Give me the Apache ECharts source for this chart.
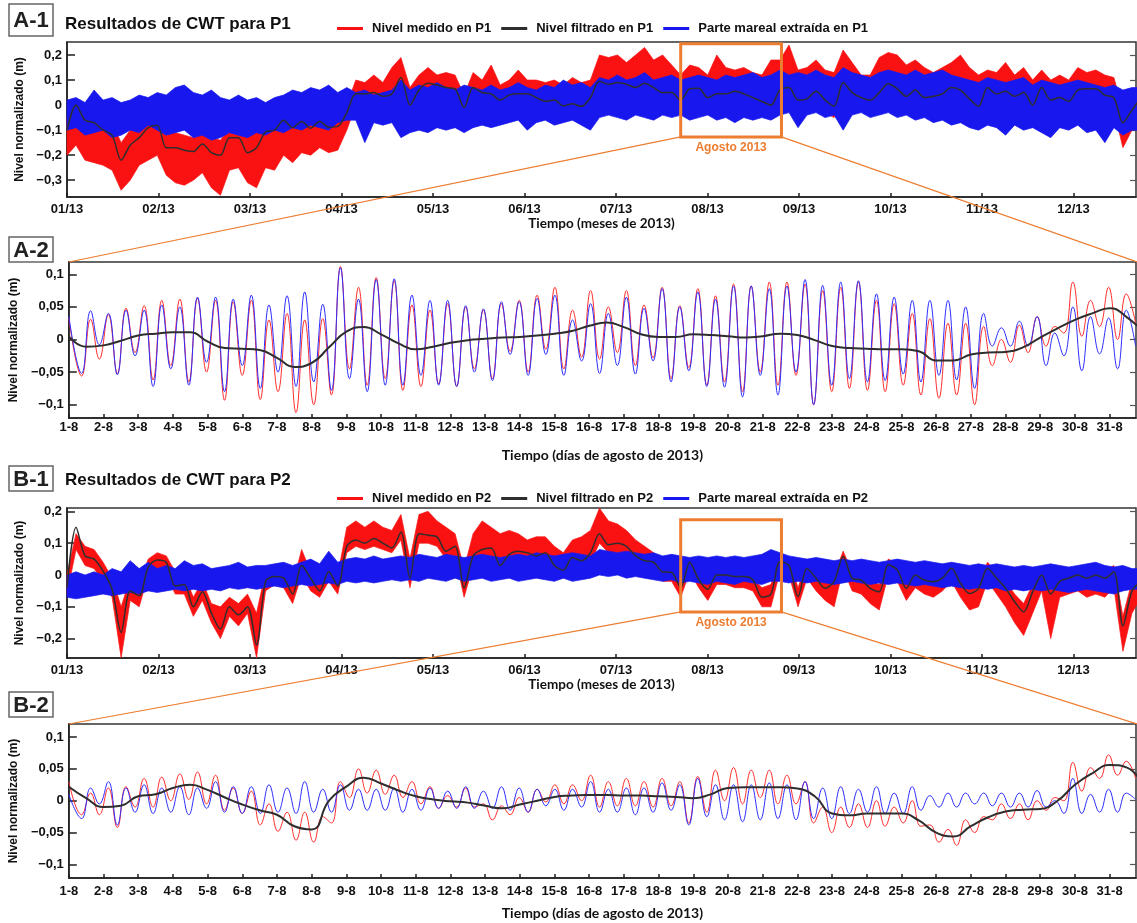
<!DOCTYPE html>
<html>
<head>
<meta charset="utf-8">
<title>Resultados de CWT para P1 y P2</title>
<script src="https://cdn.jsdelivr.net/npm/echarts@6/dist/echarts.min.js"></script>
<style>
html,body{margin:0;padding:0;background:#fff;}
#chart{width:1137px;height:923px;}
</style>
</head>
<body>
<div id="chart"></div>
<script>
// ===== Yearly records 2013: one envelope sample every 3 days from 1 January =====
const DAY_STEP = 3;
const MONTH_DAYS = 365 / 12;
const monthLabels = ['01/13','02/13','03/13','04/13','05/13','06/13','07/13','08/13','09/13','10/13','11/13','12/13'];

// P1 measured level (upper / lower envelope)
const p1MeasHi = [
 -0.05, 0.01, -0.03, -0.04, -0.06, -0.07, -0.15, -0.1, -0.08, -0.06,
 -0.04, -0.1, -0.11, -0.12, -0.13, -0.1, -0.13, -0.14, -0.09, -0.08,
 -0.12, -0.11, -0.06, -0.06, -0.03, -0.05, -0.03, -0.06, -0.04, -0.05,
 -0.05, 0.0, 0.1, 0.09, 0.12, 0.09, 0.15, 0.19, 0.07, 0.12,
 0.15, 0.12, 0.13, 0.12, 0.04, 0.13, 0.1, 0.16, 0.08, 0.1,
 0.14, 0.1, 0.1, 0.09, 0.1, 0.08, 0.11, 0.09, 0.1, 0.2,
 0.19, 0.2, 0.17, 0.2, 0.23, 0.18, 0.2, 0.16, 0.12, 0.16,
 0.15, 0.12, 0.2, 0.15, 0.14, 0.15, 0.13, 0.12, 0.18, 0.18,
 0.24, 0.14, 0.15, 0.18, 0.14, 0.13, 0.22, 0.17, 0.12, 0.12,
 0.19, 0.21, 0.2, 0.16, 0.18, 0.15, 0.13, 0.15, 0.17, 0.2,
 0.15, 0.12, 0.14, 0.13, 0.17, 0.12, 0.15, 0.1, 0.14, 0.1,
 0.12, 0.1, 0.15, 0.13, 0.14, 0.12, 0.11, -0.02, 0.06, 0.08
];
const p1MeasLo = [
 -0.2, -0.16, -0.22, -0.23, -0.24, -0.26, -0.34, -0.3, -0.24, -0.22,
 -0.2, -0.28, -0.31, -0.32, -0.3, -0.27, -0.33, -0.36, -0.26, -0.25,
 -0.31, -0.33, -0.25, -0.26, -0.2, -0.23, -0.19, -0.2, -0.17, -0.19,
 -0.18, -0.1, 0.0, 0.0, 0.01, -0.01, 0.0, 0.05, -0.05, 0.01,
 0.03, 0.03, 0.02, 0.02, -0.06, 0.02, 0.0, 0.0, -0.03, -0.01,
 0.0, 0.0, -0.02, -0.03, -0.03, -0.06, -0.05, -0.06, -0.02, 0.04,
 0.03, 0.04, 0.03, 0.02, 0.03, 0.02, 0.0, 0.0, -0.03, 0.01,
 0.01, -0.02, 0.0, -0.01, 0.0, -0.01, -0.02, -0.04, -0.05, 0.01,
 0.02, -0.03, -0.02, 0.0, -0.03, -0.05, 0.04, 0.0, -0.02, -0.03,
 0.0, 0.03, 0.01, -0.01, 0.01, -0.02, -0.01, 0.0, 0.02, 0.01,
 -0.02, -0.05, 0.02, 0.0, 0.0, -0.02, 0.0, -0.05, 0.02, -0.03,
 -0.02, -0.04, 0.01, 0.01, 0.01, -0.01, -0.02, -0.17, -0.1, -0.03
];
// P1 extracted tidal part (upper / lower envelope)
const p1TideHi = [
 0.02, 0.03, 0.01, 0.06, 0.02, 0.03, 0.01, 0.02, 0.04, 0.03,
 0.05, 0.04, 0.07, 0.08, 0.05, 0.04, 0.06, 0.03, 0.02, 0.04,
 0.02, 0.03, 0.01, 0.03, 0.04, 0.06, 0.05, 0.07, 0.06, 0.08,
 0.05, 0.07, 0.05, 0.06, 0.04, 0.05, 0.06, 0.1, 0.06, 0.08,
 0.07, 0.09, 0.07, 0.06, 0.08, 0.07, 0.06, 0.08, 0.06, 0.07,
 0.09, 0.07, 0.06, 0.08, 0.07, 0.1, 0.08, 0.09, 0.07, 0.11,
 0.1, 0.12, 0.1, 0.11, 0.13, 0.1, 0.11, 0.12, 0.1, 0.11,
 0.12, 0.11, 0.1, 0.12, 0.11, 0.12, 0.13, 0.11, 0.12, 0.14,
 0.12, 0.13, 0.12, 0.14, 0.12, 0.11, 0.15, 0.13, 0.12, 0.11,
 0.13, 0.14, 0.13, 0.12, 0.14, 0.12, 0.13, 0.14, 0.12, 0.11,
 0.1, 0.09, 0.11, 0.1, 0.09, 0.1, 0.11, 0.08, 0.1, 0.09,
 0.08, 0.09, 0.1, 0.09, 0.08, 0.07, 0.08, 0.06, 0.07, 0.07
];
const p1TideLo = [
 -0.1, -0.09, -0.12, -0.11, -0.1, -0.13, -0.12, -0.1, -0.11, -0.08,
 -0.1, -0.12, -0.11, -0.1, -0.13, -0.12, -0.14, -0.13, -0.11, -0.12,
 -0.13, -0.11, -0.12, -0.1, -0.11, -0.09, -0.1, -0.08, -0.09, -0.1,
 -0.07, -0.06, -0.06, -0.15, -0.07, -0.08, -0.07, -0.13, -0.11, -0.1,
 -0.11, -0.09, -0.1, -0.09, -0.11, -0.09, -0.08, -0.09, -0.08, -0.07,
 -0.06, -0.1, -0.07, -0.06, -0.08, -0.07, -0.06, -0.08, -0.1, -0.05,
 -0.04, -0.05, -0.06, -0.04, -0.05, -0.06, -0.04, -0.05, -0.04, -0.06,
 -0.05, -0.04, -0.06, -0.05, -0.07, -0.05, -0.06, -0.05, -0.06, -0.04,
 -0.03, -0.09, -0.04, -0.03, -0.05, -0.04, -0.1, -0.04, -0.03, -0.05,
 -0.04, -0.03, -0.05, -0.04, -0.06, -0.05, -0.07, -0.06, -0.08, -0.07,
 -0.09, -0.1, -0.08, -0.09, -0.12, -0.08, -0.1, -0.09, -0.11, -0.13,
 -0.09, -0.1, -0.08, -0.11, -0.1, -0.15, -0.09, -0.12, -0.1, -0.1
];
// P1 filtered level
const p1Filt = [
 -0.1, 0.0, -0.06, -0.07, -0.1, -0.12, -0.22, -0.16, -0.13, -0.09,
 -0.08, -0.17, -0.17, -0.18, -0.185, -0.155, -0.19, -0.2, -0.13, -0.13,
 -0.19, -0.17, -0.107, -0.1, -0.06, -0.09, -0.065, -0.092, -0.065, -0.088,
 -0.085, -0.03, 0.045, 0.045, 0.05, 0.035, 0.045, 0.11, 0.0, 0.06,
 0.087, 0.08, 0.07, 0.065, -0.01, 0.07, 0.05, 0.045, 0.02, 0.04,
 0.045, 0.045, 0.03, 0.015, 0.02, -0.003, 0.005, -0.005, 0.03, 0.095,
 0.083, 0.09, 0.083, 0.07, 0.087, 0.07, 0.05, 0.05, 0.02, 0.065,
 0.067, 0.03, 0.045, 0.045, 0.055, 0.045, 0.03, 0.015, 0.0, 0.06,
 0.07, 0.02, 0.025, 0.055, 0.02, -0.005, 0.09, 0.05, 0.03, 0.02,
 0.05, 0.085, 0.065, 0.035, 0.06, 0.03, 0.035, 0.045, 0.07, 0.06,
 0.025, -0.005, 0.07, 0.045, 0.055, 0.035, 0.05, 0.0, 0.07, 0.02,
 0.03, 0.015, 0.06, 0.065, 0.065, 0.04, 0.03, -0.07, -0.02, 0.03
];

// P2 measured level (upper / lower envelope)
const p2MeasHi = [
 0.0, 0.13, 0.09, 0.08, 0.04, -0.01, -0.1, -0.01, -0.03, 0.05,
 0.07, 0.06, 0.01, 0.0, -0.07, -0.02, -0.09, -0.1, -0.07, -0.09,
 -0.06, -0.12, 0.01, 0.02, 0.02, -0.03, 0.08, 0.01, -0.01, 0.04,
 0.0, 0.15, 0.17, 0.15, 0.17, 0.15, 0.14, 0.19, 0.05, 0.19,
 0.2, 0.17, 0.15, 0.13, 0.02, 0.13, 0.17, 0.15, 0.13, 0.14,
 0.13, 0.11, 0.12, 0.12, 0.09, 0.07, 0.11, 0.12, 0.14, 0.21,
 0.17, 0.16, 0.14, 0.11, 0.09, 0.07, 0.05, 0.04, 0.0, 0.05,
 0.01, -0.02, 0.02, 0.02, 0.01, 0.0, -0.01, -0.04, -0.03, 0.06,
 0.05, -0.04, 0.04, 0.01, -0.02, 0.0, 0.075, 0.01, 0.0, -0.02,
 -0.03, 0.05, 0.035, -0.02, 0.02, 0.0, -0.005, 0.01, 0.04, -0.01,
 -0.04, -0.02, 0.04, 0.01, -0.02, -0.06, -0.09, -0.03, 0.02, -0.04,
 0.0, 0.01, 0.02, 0.01, 0.02, 0.01, 0.03, -0.13, -0.02, 0.0
];
const p2MeasLo = [
 -0.06, 0.08, 0.03, 0.02, -0.02, -0.07, -0.26, -0.08, -0.1, 0.0,
 0.02, 0.0, -0.06, -0.06, -0.13, -0.08, -0.15, -0.2, -0.13, -0.16,
 -0.12, -0.26, -0.05, -0.03, -0.04, -0.09, 0.0, -0.05, -0.07, -0.02,
 -0.06, 0.07, 0.09, 0.08, 0.09, 0.08, 0.07, 0.11, -0.04, 0.1,
 0.1, 0.09, 0.05, 0.06, -0.07, 0.03, 0.05, 0.06, 0.0, 0.04,
 0.05, 0.04, 0.03, 0.04, 0.0, -0.01, 0.03, 0.02, 0.04, 0.1,
 0.07, 0.07, 0.06, 0.03, 0.02, 0.01, -0.02, -0.02, -0.07, 0.01,
 -0.04, -0.08, -0.03, -0.03, -0.04, -0.04, -0.05, -0.1, -0.1, 0.01,
 0.0, -0.1, -0.01, -0.05, -0.08, -0.1, 0.02, -0.05, -0.06, -0.09,
 -0.11, 0.0, -0.02, -0.08, -0.04, -0.06, -0.07, -0.05, -0.02, -0.07,
 -0.11, -0.1, -0.02, -0.06, -0.1, -0.15, -0.19, -0.12, -0.05, -0.2,
 -0.07, -0.06, -0.05, -0.07, -0.06, -0.07, -0.04, -0.24, -0.12, -0.07
];
// P2 extracted tidal part (upper / lower envelope)
const p2TideHi = [
 0.0, 0.01, 0.0, 0.01, 0.0, 0.02, 0.01, 0.045, 0.02, 0.04,
 0.02, 0.03, 0.02, 0.045, 0.03, 0.035, 0.02, 0.025, 0.03, 0.04,
 0.025, 0.03, 0.03, 0.035, 0.04, 0.03, 0.04, 0.05, 0.035, 0.075,
 0.04, 0.05, 0.055, 0.05, 0.06, 0.05, 0.055, 0.06, 0.055, 0.065,
 0.06, 0.055, 0.065, 0.06, 0.055, 0.06, 0.065, 0.06, 0.055, 0.06,
 0.065, 0.06, 0.07, 0.065, 0.06, 0.065, 0.07, 0.065, 0.06, 0.08,
 0.075, 0.07, 0.075, 0.07, 0.065, 0.07, 0.06, 0.065, 0.06, 0.055,
 0.06, 0.055, 0.06, 0.055, 0.06, 0.055, 0.06, 0.065, 0.08, 0.07,
 0.06, 0.055, 0.05, 0.055, 0.05, 0.045, 0.05, 0.045, 0.05, 0.045,
 0.04, 0.045, 0.05, 0.045, 0.04, 0.045, 0.04, 0.035, 0.04, 0.035,
 0.03, 0.035, 0.03, 0.035, 0.03, 0.025, 0.03, 0.025, 0.03, 0.035,
 0.03, 0.025, 0.03, 0.035, 0.04, 0.03, 0.025, 0.03, 0.02, 0.02
];
const p2TideLo = [
 -0.07, -0.075, -0.07, -0.065, -0.06, -0.065, -0.06, -0.055, -0.06, -0.05,
 -0.055, -0.05, -0.045, -0.05, -0.045, -0.05, -0.045, -0.05, -0.04, -0.045,
 -0.04, -0.045, -0.04, -0.035, -0.04, -0.035, -0.03, -0.035, -0.03, -0.025,
 -0.03, -0.02, -0.025, -0.02, -0.025, -0.02, -0.015, -0.02, -0.015, -0.02,
 -0.01, -0.015, -0.02, -0.01, -0.02, -0.015, -0.01, -0.02, -0.015, -0.01,
 -0.02, -0.015, -0.01, -0.015, -0.02, -0.01, -0.02, -0.015, -0.01, 0.0,
 -0.005, 0.0, -0.01, -0.005, -0.01, -0.015, -0.02, -0.015, -0.025, -0.02,
 -0.025, -0.03, -0.02, -0.025, -0.03, -0.02, -0.025, -0.03, -0.02, -0.02,
 -0.025, -0.02, -0.025, -0.02, -0.025, -0.03, -0.025, -0.02, -0.025, -0.03,
 -0.025, -0.03, -0.025, -0.03, -0.035, -0.03, -0.035, -0.04, -0.035, -0.04,
 -0.045, -0.04, -0.045, -0.04, -0.05, -0.045, -0.05, -0.045, -0.05, -0.045,
 -0.05, -0.055, -0.05, -0.045, -0.05, -0.055, -0.06, -0.05, -0.045, -0.045
];
// P2 filtered level
const p2Filt = [
 -0.04, 0.15, 0.06, 0.05, 0.012, -0.045, -0.18, -0.05, -0.065, 0.025,
 0.047, 0.04, -0.035, -0.03, -0.1, -0.053, -0.12, -0.17, -0.1, -0.125,
 -0.1, -0.22, -0.02, -0.005, -0.01, -0.06, 0.03, -0.01, -0.05, 0.01,
 -0.035, 0.09, 0.11, 0.1, 0.115, 0.1, 0.085, 0.135, -0.01, 0.13,
 0.125, 0.12, 0.075, 0.09, -0.04, 0.06, 0.08, 0.085, 0.03, 0.065,
 0.075, 0.07, 0.06, 0.07, 0.03, 0.015, 0.055, 0.045, 0.07, 0.13,
 0.095, 0.1, 0.09, 0.06, 0.045, 0.04, 0.01, 0.008, -0.04, 0.04,
 -0.015, -0.045, 0.0, 0.0, -0.005, -0.005, -0.015, -0.07, -0.06, 0.042,
 0.03, -0.068, 0.02, -0.01, -0.042, -0.02, 0.058, -0.01, -0.016, -0.042,
 -0.053, 0.032, 0.016, -0.042, 0.0, -0.016, -0.021, -0.01, 0.021, -0.026,
 -0.058, -0.042, 0.021, -0.01, -0.042, -0.084, -0.116, -0.053, 0.0, -0.06,
 -0.02, -0.01, 0.0, -0.01, 0.0, -0.01, 0.01, -0.16, -0.05, -0.02
];

// ===== August 2013 detail =====
const dayLabels = ['1-8','2-8','3-8','4-8','5-8','6-8','7-8','8-8','9-8','10-8','11-8','12-8','13-8','14-8','15-8','16-8',
  '17-8','18-8','19-8','20-8','21-8','22-8','23-8','24-8','25-8','26-8','27-8','28-8','29-8','30-8','31-8'];
// days after 1 Aug 00:00 of each tidal high / low water (first and last: record ends)
const augExtremeDays = [
 0, 0.37, 0.63, 0.88, 1.14, 1.40, 1.65, 1.91, 2.17, 2.43,
 2.68, 2.94, 3.20, 3.46, 3.71, 3.97, 4.23, 4.49, 4.74, 5.00,
 5.26, 5.52, 5.77, 6.03, 6.29, 6.55, 6.80, 7.06, 7.32, 7.57,
 7.83, 8.09, 8.35, 8.60, 8.86, 9.12, 9.38, 9.63, 9.89, 10.15,
 10.41, 10.66, 10.92, 11.18, 11.44, 11.69, 11.95, 12.21, 12.47, 12.72,
 12.98, 13.24, 13.50, 13.75, 14.01, 14.27, 14.52, 14.78, 15.04, 15.30,
 15.55, 15.81, 16.07, 16.33, 16.58, 16.84, 17.10, 17.36, 17.61, 17.87,
 18.13, 18.39, 18.64, 18.90, 19.16, 19.42, 19.67, 19.93, 20.19, 20.44,
 20.70, 20.96, 21.22, 21.47, 21.73, 21.99, 22.25, 22.50, 22.76, 23.02,
 23.28, 23.53, 23.79, 24.05, 24.31, 24.56, 24.82, 25.08, 25.34, 25.59,
 25.85, 26.11, 26.37, 26.62, 26.88, 27.14, 27.40, 27.65, 27.91, 28.17,
 28.42, 28.68, 28.94, 29.20, 29.45, 29.71, 29.97, 30.23, 30.48, 30.75
];
const augP1Meas = [
 0.033, -0.056, 0.031, -0.03, 0.038, -0.052, 0.048, -0.02, 0.052, -0.062,
 0.06, -0.04, 0.062, -0.065, 0.063, -0.05, 0.06, -0.093, 0.058, -0.055,
 0.06, -0.092, 0.03, -0.08, 0.04, -0.112, 0.03, -0.1, 0.032, -0.085,
 0.112, -0.045, 0.08, -0.07, 0.095, -0.06, 0.09, -0.078, 0.053, -0.072,
 0.045, -0.068, 0.055, -0.072, 0.05, -0.045, 0.045, -0.06, 0.055, -0.018,
 0.06, -0.05, 0.068, -0.015, 0.08, -0.045, 0.045, -0.027, 0.075, -0.03,
 0.05, -0.02, 0.075, -0.04, 0.053, -0.028, 0.08, -0.06, 0.052, -0.043,
 0.078, -0.07, 0.067, -0.065, 0.085, -0.08, 0.082, -0.05, 0.088, -0.07,
 0.088, -0.055, 0.085, -0.1, 0.075, -0.08, 0.08, -0.075, 0.088, -0.078,
 0.06, -0.08, 0.055, -0.07, 0.04, -0.085, 0.032, -0.09, 0.025, -0.085,
 0.025, -0.1, 0.02, -0.04, 0.0, -0.035, 0.022, -0.02, 0.035, -0.01,
 0.02, 0.01, 0.088, 0.005, 0.06, 0.02, 0.08, 0.0, 0.07, 0.025
];
const augP1Tide = [
 0.036, -0.052, 0.044, -0.008, 0.04, -0.054, 0.045, -0.025, 0.045, -0.072,
 0.053, -0.045, 0.05, -0.07, 0.065, -0.035, 0.065, -0.08, 0.062, -0.04,
 0.068, -0.075, 0.053, -0.05, 0.067, -0.072, 0.073, -0.065, 0.054, -0.078,
 0.11, -0.06, 0.062, -0.08, 0.092, -0.07, 0.093, -0.07, 0.068, -0.055,
 0.06, -0.07, 0.06, -0.072, 0.052, -0.05, 0.047, -0.063, 0.058, -0.023,
 0.058, -0.055, 0.063, -0.023, 0.068, -0.055, 0.03, -0.033, 0.055, -0.052,
 0.04, -0.04, 0.065, -0.053, 0.048, -0.033, 0.078, -0.065, 0.05, -0.048,
 0.073, -0.072, 0.062, -0.073, 0.082, -0.088, 0.082, -0.055, 0.078, -0.085,
 0.082, -0.05, 0.092, -0.1, 0.083, -0.07, 0.088, -0.06, 0.09, -0.065,
 0.07, -0.063, 0.065, -0.053, 0.06, -0.065, 0.06, -0.055, 0.06, -0.062,
 0.05, -0.075, 0.04, -0.01, 0.018, -0.01, 0.028, -0.01, 0.035, -0.04,
 0.01, -0.025, 0.05, -0.048, 0.035, -0.022, 0.033, -0.045, 0.045, -0.01
];
// filtered level, one value every half day from 1 Aug
const FILT_STEP = 0.5;
const augP1Filt = [
 0.005, -0.011, -0.009, -0.002, 0.006, 0.009, 0.011, 0.011, -0.003, -0.013,
 -0.014, -0.016, -0.028, -0.042, -0.036, -0.012, 0.012, 0.019, 0.008, -0.006,
 -0.015, -0.011, -0.005, -0.001, 0.001, 0.003, 0.004, 0.006, 0.009, 0.013,
 0.021, 0.026, 0.019, 0.008, 0.004, 0.004, 0.008, 0.007, 0.005, 0.003,
 0.005, 0.009, 0.007, -0.001, -0.01, -0.013, -0.014, -0.015, -0.015, -0.018,
 -0.032, -0.032, -0.023, -0.02, -0.019, -0.012, 0.003, 0.017, 0.03, 0.04,
 0.048, 0.034, 0.01
];
const augP2Meas = [
 0.03, -0.022, 0.012, -0.022, 0.02, -0.042, 0.022, -0.01, 0.035, -0.01,
 0.037, 0.0, 0.042, 0.002, 0.045, -0.005, 0.04, -0.015, 0.02, -0.02,
 0.015, -0.038, -0.005, -0.048, -0.018, -0.062, -0.018, -0.065, -0.025, -0.035,
 0.03, 0.005, 0.05, 0.012, 0.048, 0.01, 0.04, 0.005, 0.03, -0.005,
 0.022, -0.012, 0.008, -0.01, 0.02, -0.01, -0.005, -0.03, -0.008, -0.022,
 0.005, -0.018, 0.018, -0.002, 0.025, -0.005, 0.025, 0.0, 0.04, -0.01,
 0.03, -0.008, 0.035, -0.008, 0.03, -0.01, 0.035, -0.008, 0.03, -0.035,
 0.038, -0.018, 0.048, 0.0, 0.052, -0.005, 0.048, 0.005, 0.048, -0.005,
 0.04, -0.005, 0.03, -0.035, -0.01, -0.05, -0.01, -0.042, -0.005, -0.042,
 0.0, -0.04, -0.01, -0.035, 0.0, -0.04, -0.038, -0.065, -0.045, -0.07,
 -0.03, -0.05, -0.025, -0.03, -0.005, -0.028, -0.005, -0.03, 0.0, -0.015,
 0.005, 0.0, 0.06, 0.015, 0.052, 0.035, 0.072, 0.04, 0.062, 0.035
];
const augP2Tide = [
 0.01, -0.028, 0.02, -0.005, 0.03, -0.038, 0.02, -0.018, 0.025, -0.02,
 0.02, -0.018, 0.022, -0.022, 0.02, -0.012, 0.03, -0.018, 0.022, -0.02,
 0.022, -0.02, 0.025, -0.018, 0.02, -0.02, 0.03, -0.018, 0.018, -0.018,
 0.025, -0.015, 0.018, -0.015, 0.018, -0.015, 0.02, -0.018, 0.018, -0.015,
 0.02, -0.012, 0.015, -0.012, 0.022, -0.012, 0.015, -0.012, 0.022, -0.015,
 0.02, -0.018, 0.018, -0.008, 0.018, -0.015, 0.018, -0.01, 0.03, -0.018,
 0.018, -0.018, 0.02, -0.022, 0.02, -0.018, 0.028, -0.015, 0.025, -0.038,
 0.035, -0.025, 0.025, -0.03, 0.025, -0.033, 0.025, -0.03, 0.028, -0.028,
 0.025, -0.03, 0.03, -0.028, 0.02, -0.028, 0.022, -0.02, 0.018, -0.018,
 0.022, -0.02, 0.012, -0.02, 0.022, -0.015, 0.008, -0.01, 0.012, -0.01,
 0.012, -0.005, 0.012, -0.008, 0.012, -0.01, 0.012, -0.01, 0.016, -0.01,
 0.0, -0.02, 0.035, -0.02, 0.01, -0.018, 0.018, -0.018, 0.012, 0.002
];
const augP2Filt = [
 0.022, 0.004, -0.01, -0.008, 0.007, 0.01, 0.02, 0.025, 0.017, 0.005,
 -0.006, -0.015, -0.022, -0.04, -0.045, 0.0, 0.022, 0.036, 0.027, 0.016,
 0.007, 0.002, -0.001, -0.003, -0.008, -0.012, -0.006, 0.0, 0.006, 0.008,
 0.009, 0.009, 0.008, 0.008, 0.007, 0.006, 0.004, 0.01, 0.02, 0.021,
 0.021, 0.021, 0.019, 0.007, -0.02, -0.023, -0.02, -0.02, -0.02, -0.031,
 -0.05, -0.056, -0.04, -0.026, -0.017, -0.014, -0.013, 0.0, 0.025, 0.043,
 0.056, 0.052, 0.02
];

// zoom window marked on the yearly panels (days from 1 Jan, level in m)
const augWindowDays = [204, 237.5];
const p1WindowLevel = [-0.127, 0.245];
const p2WindowLevel = [-0.116, 0.174];

// ===== styling =====
const FONT = '"Liberation Sans", Arial, sans-serif';
const FONT_NAME = 'Lato, "Liberation Sans", sans-serif';
const RED = 'rgb(250,18,18)';
const BLUE = 'rgb(24,24,238)';
const BLACK = '#2e2e2e';
const ORANGE = '#ED7D31';
const AXIS = '#1e1e1e';

const YEAR_MAX = 355.35;
const AUG_MAX = 30.76;
const Y_RANGES = [[-0.367, 0.252], [-0.1203, 0.1188], [-0.261, 0.2106], [-0.1213, 0.1204]];

function fmtLevel(v) {
  if (Math.abs(v) < 1e-9) return '0';
  return (v < 0 ? '\u2212' : '') + String(Math.abs(v)).replace('.', ',');
}

function leftRightY(gridIndex, range, ticks) {
  return [
    {
      type: 'value', gridIndex, min: range[0], max: range[1], position: 'left',
      axisLine: { show: true, onZero: false, lineStyle: { color: AXIS, width: 1.5 } },
      axisTick: { show: true, inside: true, length: 8, customValues: ticks, lineStyle: { color: AXIS, width: 1.5 } },
      axisLabel: { customValues: ticks, formatter: fmtLevel, margin: 5, color: '#111',
        fontFamily: FONT, fontWeight: 'bold', fontSize: 13 },
      splitLine: { show: false },
      name: 'Nivel normalizado (m)', nameLocation: 'middle', nameRotate: 90, nameGap: 37,
      nameTextStyle: { fontFamily: FONT, fontWeight: 'bold', fontSize: 12, color: '#111' }
    },
    {
      type: 'value', gridIndex, min: range[0], max: range[1], position: 'right',
      axisLine: { show: false, onZero: false },
      axisTick: { show: true, inside: true, length: 6, customValues: ticks, lineStyle: { color: '#555', width: 1.2 } },
      axisLabel: { show: false }, splitLine: { show: false }
    }
  ];
}

function yearX(gridIndex) {
  const ticks = monthLabels.map((_, k) => k * MONTH_DAYS);
  return {
    type: 'value', gridIndex, min: 0, max: YEAR_MAX, position: 'bottom',
    axisLine: { show: true, onZero: false, lineStyle: { color: AXIS, width: 1.5 } },
    axisTick: { show: true, inside: true, length: 4, customValues: ticks, lineStyle: { color: AXIS, width: 1.5 } },
    axisLabel: { customValues: ticks, formatter: v => monthLabels[Math.round(v / MONTH_DAYS)], margin: 6,
      color: '#111', fontFamily: FONT, fontWeight: 'bold', fontSize: 13 },
    splitLine: { show: false },
    name: 'Tiempo (meses de 2013)', nameLocation: 'middle', nameGap: 19,
    nameTextStyle: { fontFamily: FONT_NAME, fontWeight: 'bold', fontSize: 13.5, color: '#111' }
  };
}

function augX(gridIndex, labelMargin, nameGap) {
  const ticks = dayLabels.map((_, k) => k);
  return {
    type: 'value', gridIndex, min: 0, max: AUG_MAX, position: 'bottom',
    axisLine: { show: true, onZero: false, lineStyle: { color: AXIS, width: 1.5 } },
    axisTick: { show: true, inside: true, length: 4, customValues: ticks, lineStyle: { color: AXIS, width: 1.5 } },
    axisLabel: { customValues: ticks, formatter: v => dayLabels[Math.round(v)], margin: labelMargin,
      color: '#111', fontFamily: FONT, fontWeight: 'bold', fontSize: 13 },
    splitLine: { show: false },
    name: 'Tiempo (días de agosto de 2013)', nameLocation: 'middle', nameGap: nameGap,
    nameTextStyle: { fontFamily: FONT_NAME, fontWeight: 'bold', fontSize: 14, color: '#111' }
  };
}

// envelope band: polygon through the upper samples and back along the lower ones
function band(name, xi, yi, lo, hi, color, z) {
  return {
    type: 'custom', name, xAxisIndex: xi, yAxisIndex: yi, z, silent: true,
    color, itemStyle: { color },
    data: [[0, 0]],
    renderItem: (params, api) => {
      const pts = [];
      for (let i = 0; i < hi.length; i++) pts.push(api.coord([i * DAY_STEP, hi[i]]));
      for (let i = lo.length - 1; i >= 0; i--) pts.push(api.coord([i * DAY_STEP, lo[i]]));
      return { type: 'polygon', shape: { points: pts }, style: { fill: color, stroke: color, lineWidth: 0.7 } };
    }
  };
}

function yearlySeries(xi, yi, meas, tide, filt, names) {
  return [
    band(names[0], xi, yi, meas[0], meas[1], RED, 2),
    band(names[2], xi, yi, tide[0], tide[1], BLUE, 3),
    { type: 'line', name: names[1], xAxisIndex: xi, yAxisIndex: yi, data: filt.map((v, i) => [i * DAY_STEP, v]),
      symbol: 'none', smooth: 0.3, color: BLACK, lineStyle: { width: 1.5, color: BLACK }, z: 5 }
  ];
}

function augSeries(xi, yi, meas, tide, filt) {
  return [
    { type: 'line', xAxisIndex: xi, yAxisIndex: yi, data: augExtremeDays.map((t, i) => [t, meas[i]]),
      symbol: 'none', smooth: 0.45, lineStyle: { width: 1, color: 'rgb(255,45,45)' }, z: 2 },
    { type: 'line', xAxisIndex: xi, yAxisIndex: yi, data: augExtremeDays.map((t, i) => [t, tide[i]]),
      symbol: 'none', smooth: 0.45, lineStyle: { width: 1, color: 'rgb(45,45,255)' }, z: 3 },
    { type: 'line', xAxisIndex: xi, yAxisIndex: yi, data: filt.map((v, i) => [i * FILT_STEP, v]),
      symbol: 'none', smooth: 0.5, lineStyle: { width: 2, color: BLACK }, z: 4 }
  ];
}

const namesP1 = ['Nivel medido en P1', 'Nivel filtrado en P1', 'Parte mareal extraída en P1'];
const namesP2 = ['Nivel medido en P2', 'Nivel filtrado en P2', 'Parte mareal extraída en P2'];
const ticksYear1 = [-0.3, -0.2, -0.1, 0, 0.1, 0.2];
const ticksYear2 = [-0.2, -0.1, 0, 0.1, 0.2];
const ticksAug = [-0.1, -0.05, 0, 0.05, 0.1];

function legend(names, top) {
  return {
    left: 337, top, padding: 0, itemWidth: 26, itemHeight: 3, itemGap: 10, icon: 'rect', selectedMode: false,
    data: names,
    textStyle: { fontFamily: FONT, fontWeight: 'bold', fontSize: 13, color: '#111', padding: [0, 0, 0, 4] }
  };
}

const gridStyle = { show: true, borderColor: '#333', borderWidth: 1.5, backgroundColor: 'transparent' };

const option = {
  animation: false,
  backgroundColor: '#fff',
  grid: [
    Object.assign({ left: 67, top: 42, width: 1069, height: 155 }, gridStyle),
    Object.assign({ left: 68, top: 262, width: 1068, height: 156 }, gridStyle),
    Object.assign({ left: 67, top: 508, width: 1069, height: 150 }, gridStyle),
    Object.assign({ left: 68, top: 724, width: 1068, height: 154 }, gridStyle)
  ],
  legend: [legend(namesP1, 22), legend(namesP2, 492)],
  xAxis: [yearX(0), augX(1, 3, 30), yearX(2), augX(3, 7, 28)],
  yAxis: [
    ...leftRightY(0, Y_RANGES[0], ticksYear1),
    ...leftRightY(1, Y_RANGES[1], ticksAug),
    ...leftRightY(2, Y_RANGES[2], ticksYear2),
    ...leftRightY(3, Y_RANGES[3], ticksAug)
  ],
  series: [
    ...yearlySeries(0, 0, [p1MeasLo, p1MeasHi], [p1TideLo, p1TideHi], p1Filt, namesP1),
    ...augSeries(1, 2, augP1Meas, augP1Tide, augP1Filt),
    ...yearlySeries(2, 4, [p2MeasLo, p2MeasHi], [p2TideLo, p2TideHi], p2Filt, namesP2),
    ...augSeries(3, 6, augP2Meas, augP2Tide, augP2Filt)
  ]
};

const chart = echarts.init(document.getElementById('chart'), null, { renderer: 'canvas' });
chart.setOption(option);

// panel tags, titles and the August zoom boxes with their connector lines
function panelTag(text, x, y, w, h) {
  return {
    type: 'group', z: 20,
    children: [
      { type: 'rect', shape: { x, y, width: w, height: h }, style: { fill: '#fff', stroke: '#666', lineWidth: 1.5 } },
      { type: 'text', style: { text, x: x + w / 2, y: y + h / 2 + 1, align: 'center', verticalAlign: 'middle',
        font: 'bold 22px ' + FONT, fill: '#222' } }
    ]
  };
}
function title(text, y) {
  return { type: 'text', z: 20, style: { text, x: 65, y, verticalAlign: 'middle', font: 'bold 17px ' + FONT, fill: '#111' } };
}
function zoomMarks(xi, yi, level, detailXi, detailYi, detailTop) {
  const tl = chart.convertToPixel({ xAxisIndex: xi, yAxisIndex: yi }, [augWindowDays[0], level[1]]);
  const br = chart.convertToPixel({ xAxisIndex: xi, yAxisIndex: yi }, [augWindowDays[1], level[0]]);
  const dl = chart.convertToPixel({ xAxisIndex: detailXi, yAxisIndex: detailYi }, [0, detailTop]);
  const dr = chart.convertToPixel({ xAxisIndex: detailXi, yAxisIndex: detailYi }, [AUG_MAX, detailTop]);
  return [
    { type: 'line', z: 15, shape: { x1: tl[0], y1: br[1], x2: dl[0], y2: dl[1] }, style: { stroke: ORANGE, lineWidth: 1.2 } },
    { type: 'line', z: 15, shape: { x1: br[0], y1: br[1], x2: dr[0] + 1, y2: dr[1] }, style: { stroke: ORANGE, lineWidth: 1.2 } },
    { type: 'rect', z: 16, shape: { x: tl[0], y: tl[1], width: br[0] - tl[0], height: br[1] - tl[1] },
      style: { fill: 'none', stroke: ORANGE, lineWidth: 3 } },
    { type: 'text', z: 16, style: { text: 'Agosto 2013', x: (tl[0] + br[0]) / 2, y: br[1] + 5, align: 'center',
      verticalAlign: 'top', font: 'bold 12px ' + FONT, fill: ORANGE } }
  ];
}

chart.setOption({
  graphic: [
    panelTag('A-1', 9, 4, 44, 32),
    panelTag('A-2', 9, 237, 44, 25),
    panelTag('B-1', 9, 466, 44, 25),
    panelTag('B-2', 9, 692, 44, 25),
    title('Resultados de CWT para P1', 24),
    title('Resultados de CWT para P2', 480),
    ...zoomMarks(0, 0, p1WindowLevel, 1, 2, Y_RANGES[1][1]),
    ...zoomMarks(2, 4, p2WindowLevel, 3, 6, Y_RANGES[3][1])
  ]
});
</script>
</body>
</html>
